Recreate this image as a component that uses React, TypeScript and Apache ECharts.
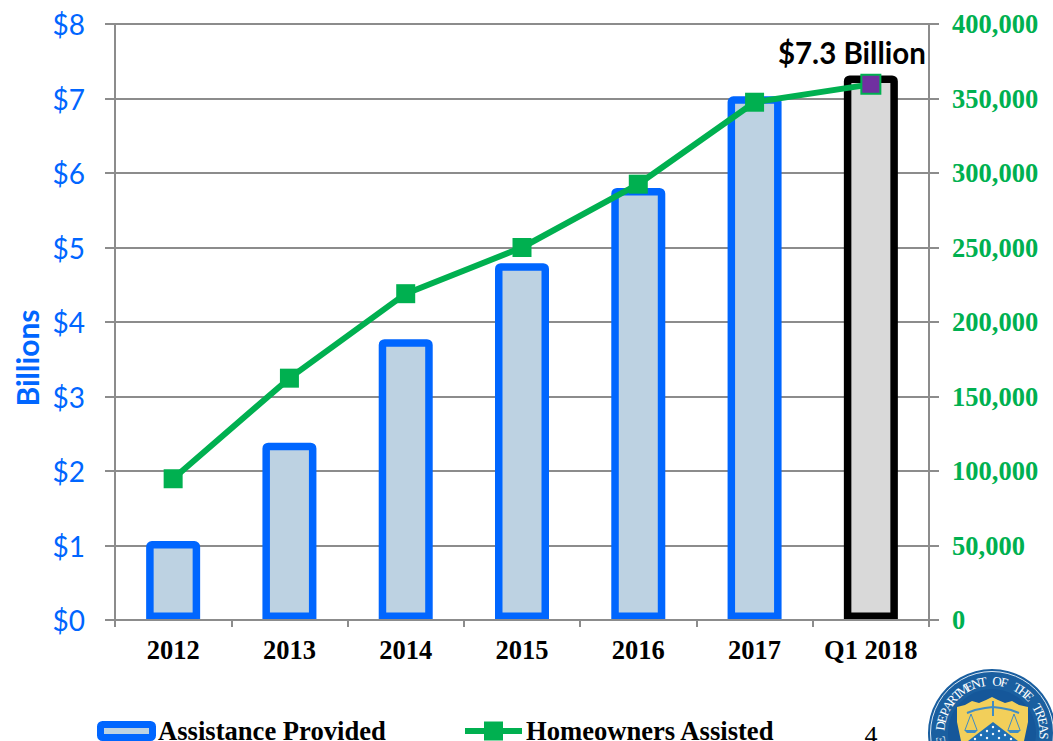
import React, { useEffect, useRef } from "react";
import * as echarts from "echarts";

const categories = ["2012", "2013", "2014", "2015", "2016", "2017", "Q1 2018"];
const assistance = [1.06, 2.38, 3.77, 4.79, 5.8, 7.03, 7.31];
const homeowners = [94800, 162300, 219000, 250000, 292500, 347500, 359500];
const calloutText = "$7.3 Billion";
const axisTitle = "Billions";
const legendBar = "Assistance Provided";
const legendLine = "Homeowners Assisted";
const sealText = "E DEPARTMENT OF THE TREAS";

const BLUE = "#0066ff";
const GREEN = "#00b050";
const GRAY = "#8c8c8c";
const SERIF = "'Liberation Serif'";
const SANS = "Lato";
const SEAL_DARK = "#1a5fa0";
const SEAL_MID = "#3f8cc4";

function sealLetters(cx: number, cy: number, r: number) {
  return sealText.split("").map((ch, i) => {
    const a = -1.43 + (i - 2) * 0.139;
    return {
      type: "text",
      x: cx + r * Math.sin(a),
      y: cy - r * Math.cos(a),
      rotation: -a,
      style: { text: ch, font: `13px ${SERIF}`, fill: "#fff", align: "center", verticalAlign: "middle" },
    };
  });
}

const sealStars = [
  [993, 727], [987, 731], [999, 731], [981, 735], [993, 734], [1005, 735], [975, 739], [987, 738], [999, 738], [1011, 739],
].map(([cx, cy]) => ({ type: "circle", shape: { cx, cy, r: 1.2 }, style: { fill: "#fff" } }));

export default function App() {
  const ref = useRef<HTMLDivElement>(null);
  useEffect(() => {
    document.body.style.margin = "0";
    document.body.style.overflow = "hidden";
    const chart = echarts.init(ref.current!, undefined, { renderer: "svg" });
    const cx = 992, cy = 733;
    chart.setOption({
      animation: false,
      backgroundColor: "#fff",
      grid: { left: 115, right: 124, top: 24, height: 596 },
      xAxis: {
        type: "category",
        data: categories,
        z: 5,
        axisLine: { lineStyle: { color: GRAY, width: 2 } },
        axisTick: { show: true, length: 7, lineStyle: { color: GRAY, width: 2 } },
        axisLabel: { color: "#000", fontFamily: SERIF, fontWeight: "bold", fontSize: 26.5, margin: 16, interval: 0 },
      },
      yAxis: [
        {
          type: "value", min: 0, max: 8, interval: 1,
          axisLine: { show: true, lineStyle: { color: GRAY, width: 2 } },
          axisTick: { show: true, length: 10, lineStyle: { color: GRAY, width: 2 } },
          splitLine: { show: true, lineStyle: { color: GRAY, width: 2 } },
          axisLabel: { color: BLUE, fontFamily: SANS, fontSize: 28, margin: 30, padding: [0, 0, 1, 0], formatter: (v: number) => `$${v}` },
        },
        {
          type: "value", min: 0, max: 400000, interval: 50000, position: "right",
          axisLine: { show: true, lineStyle: { color: GRAY, width: 2 } },
          axisTick: { show: true, length: 10, lineStyle: { color: GRAY, width: 2 } },
          splitLine: { show: false },
          axisLabel: {
            color: GREEN, fontFamily: SERIF, fontWeight: "bold", fontSize: 26.5, margin: 23, padding: [0, 0, 3, 0],
            formatter: (v: number) => v.toLocaleString("en-US"),
          },
        },
      ],
      series: [
        {
          type: "bar", yAxisIndex: 0, barWidth: 54,
          itemStyle: { color: "#bdd2e2", borderColor: BLUE, borderWidth: 7.5, borderRadius: [2, 2, 0, 0] },
          data: assistance.map((v, i) =>
            i === assistance.length - 1
              ? {
                  value: v,
                  itemStyle: { color: "#d9d9d9", borderColor: "#000" },
                  label: {
                    show: true, position: "top", offset: [-19, -3], formatter: calloutText,
                    color: "#000", fontFamily: SANS, fontWeight: "bold", fontSize: 29.5,
                  },
                }
              : v
          ),
        },
        {
          type: "line", yAxisIndex: 1, symbol: "rect", symbolSize: 19, z: 4,
          lineStyle: { color: GREEN, width: 6 },
          itemStyle: { color: GREEN },
          data: homeowners.map((v, i) =>
            i === homeowners.length - 1
              ? { value: v, itemStyle: { color: "#7030a0", borderColor: GREEN, borderWidth: 2 } }
              : v
          ),
        },
      ],
      graphic: [
        { type: "text", x: 27, y: 358, rotation: Math.PI / 2, style: { text: axisTitle, font: `bold 30px ${SANS}`, fill: BLUE, align: "center", verticalAlign: "middle" } },
        { type: "rect", shape: { x: 100.5, y: 724.5, width: 52, height: 13, r: 2 }, style: { fill: "#bdd2e2", stroke: BLUE, lineWidth: 7 } },
        { type: "text", x: 158, y: 731, style: { text: legendBar, font: `bold 26.6px ${SERIF}`, fill: "#000", verticalAlign: "middle" } },
        { type: "line", shape: { x1: 465, y1: 731, x2: 522, y2: 731 }, style: { stroke: GREEN, lineWidth: 6 } },
        { type: "rect", shape: { x: 484, y: 721.5, width: 19, height: 19 }, style: { fill: GREEN } },
        { type: "text", x: 526, y: 731, style: { text: legendLine, font: `bold 26.6px ${SERIF}`, fill: "#000", verticalAlign: "middle" } },
        { type: "text", x: 871, y: 735, style: { text: "4", font: `26px ${SERIF}`, fill: "#000", align: "center", verticalAlign: "middle" } },
        // Treasury seal, cut off by the bottom and right edges of the page
        { type: "circle", shape: { cx, cy, r: 64 }, style: { fill: SEAL_DARK } },
        { type: "circle", shape: { cx, cy, r: 61.5 }, style: { fill: "none", stroke: "#dbe8f3", lineWidth: 1 } },
        ...sealLetters(cx, cy, 52),
        { type: "circle", shape: { cx, cy, r: 44 }, style: { fill: "#15579a" } },
        {
          type: "polygon",
          shape: { points: [[957, 707], [965, 705], [972, 701], [979, 703], [986, 700], [992, 697], [998, 700], [1005, 703], [1012, 701], [1019, 705], [1028, 707], [1028, 722], [1024, 741], [961, 741], [957, 722]] },
          style: { fill: "#f2cf5a" },
        },
        { type: "polyline", shape: { points: [[967, 713], [975, 710], [985, 708], [993, 707], [1001, 708], [1011, 710], [1019, 713]] }, style: { fill: "none", stroke: SEAL_MID, lineWidth: 2 } },
        { type: "line", shape: { x1: 993, y1: 701, x2: 993, y2: 716 }, style: { stroke: SEAL_MID, lineWidth: 2 } },
        { type: "polyline", shape: { points: [[965, 730], [971, 714], [977, 730]] }, style: { fill: "none", stroke: SEAL_MID, lineWidth: 1 } },
        { type: "polyline", shape: { points: [[1008, 730], [1014, 714], [1020, 730]] }, style: { fill: "none", stroke: SEAL_MID, lineWidth: 1 } },
        { type: "polygon", shape: { points: [[964, 730], [978, 730], [975, 733], [967, 733]] }, style: { fill: SEAL_MID } },
        { type: "polygon", shape: { points: [[1007, 730], [1021, 730], [1018, 733], [1010, 733]] }, style: { fill: SEAL_MID } },
        { type: "polygon", shape: { points: [[968, 741], [993, 722], [1018, 741]] }, style: { fill: "#1e6fb5" } },
        ...sealStars,
      ],
    });
    return () => chart.dispose();
  }, []);
  return <div ref={ref} style={{ position: "absolute", left: 0, top: 0, width: 1053, height: 741, overflow: "hidden" }} />;
}
